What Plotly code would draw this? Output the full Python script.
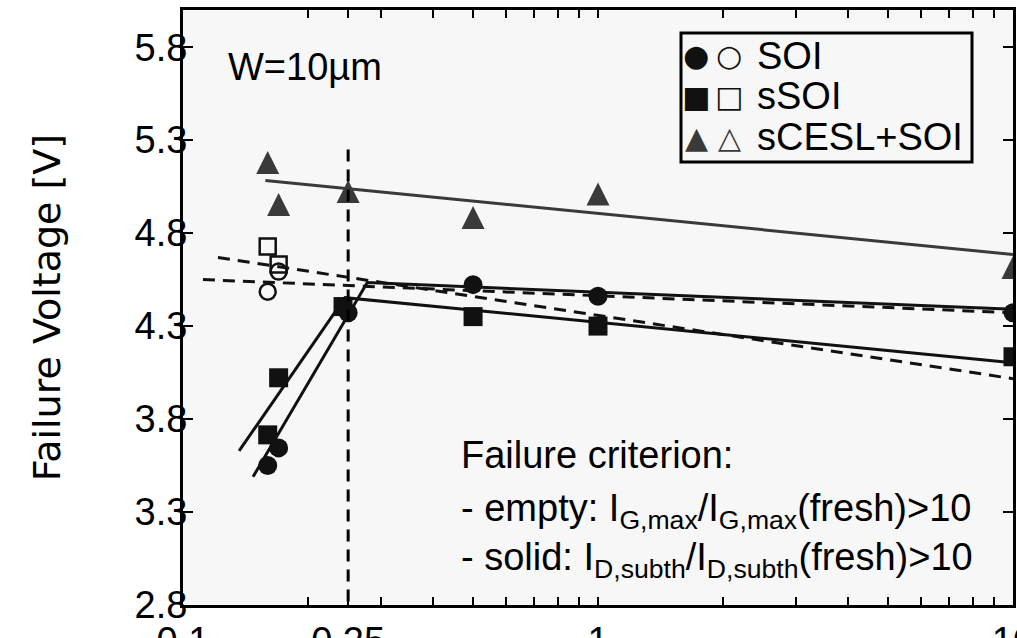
import plotly.graph_objects as go

# ---- measured failure voltages vs. gate length L [um] ----
soi_solid_L = [0.16, 0.17, 0.25, 0.5, 1, 10]
soi_solid_V = [3.55, 3.645, 4.372, 4.523, 4.46, 4.372]
soi_empty_L = [0.16, 0.17]
soi_empty_V = [4.485, 4.593]

ssoi_solid_L = [0.16, 0.17, 0.243, 0.5, 1, 10]
ssoi_solid_V = [3.715, 4.022, 4.405, 4.351, 4.30, 4.135]
ssoi_empty_L = [0.16, 0.17]
ssoi_empty_V = [4.728, 4.631]

scesl_solid_L = [0.16, 0.17, 0.25, 0.5, 1, 10]
scesl_solid_V = [5.18, 4.954, 5.024, 4.884, 5.01, 4.615]

# ---- guide / fit lines ----
soi_fit_L = [0.1475, 0.278, 10]
soi_fit_V = [3.49, 4.534, 4.39]
ssoi_fit_L = [0.1365, 0.2457, 10]
ssoi_fit_V = [3.629, 4.453, 4.103]
scesl_fit_L = [0.158, 10]
scesl_fit_V = [5.083, 4.685]
soi_empty_fit_L = [0.1117, 10]
soi_empty_fit_V = [4.55, 4.372]
ssoi_empty_fit_L = [0.1214, 10]
ssoi_empty_fit_V = [4.669, 4.017]

# vertical marker at L = 0.25 um
mark_L = [0.25, 0.25]
mark_V = [5.25, 2.8]

# ---- axes ----
x_tickvals = [0.1, 0.25, 1, 10]
x_ticktext = ["0.1", "0.25", "1", "10"]
x_minor = [0.2, 0.3, 0.4, 0.5, 0.6, 0.7, 0.8, 0.9, 2, 3, 4, 5, 6, 7, 8, 9]
y_tickvals = [2.8, 3.3, 3.8, 4.3, 4.8, 5.3, 5.8]
y_ticktext = ["2.8", "3.3", "3.8", "4.3", "4.8", "5.3", "5.8"]
y_range = [2.8, 6.0]

legend_names = ["SOI", "sSOI", "sCESL+SOI"]
legend_glyphs = [("\u25cf", "\u25cb"), ("\u25a0", "\u25a1"), ("\u25b2", "\u25b3")]

# ---- page geometry ----
W, H = 1017, 638
ML, MR, MT, MB = 183, 4, 10, 33
PW, PH = W - ML - MR, H - MT - MB

FONT = "Liberation Sans, Arial, Helvetica, sans-serif"
TITLE_FONT = "DejaVu Sans, Liberation Sans, Arial, sans-serif"
GLYPH_FONT = "DejaVu Sans, sans-serif"
FS = 38
BLACK = "#111111"
GREY = "#3a3a3a"
BG = "#f7f7f7"
DASH = "12px,8px"
TRI = 23   # triangle height/width in px


def px(x):
    return (x - ML) / PW


def py(y):
    return (H - MB - y) / PH


fig = go.Figure()


def line(xs, ys, color=BLACK, dash="solid", width=3):
    fig.add_trace(go.Scatter(x=xs, y=ys, mode="lines", showlegend=False,
                             line=dict(color=color, width=width, dash=dash),
                             hoverinfo="skip"))


line(scesl_fit_L, scesl_fit_V, color=GREY)
line(soi_fit_L, soi_fit_V)
line(ssoi_fit_L, ssoi_fit_V)
line(soi_empty_fit_L, soi_empty_fit_V, dash=DASH)
line(ssoi_empty_fit_L, ssoi_empty_fit_V, dash=DASH)


def pts(xs, ys, symbol, size, color, lw=0, **extra):
    fig.add_trace(go.Scatter(x=xs, y=ys, mode="markers", showlegend=False,
                             marker=dict(symbol=symbol, size=size, color=color,
                                         line=dict(color=color, width=lw), **extra)))


pts(ssoi_empty_L, ssoi_empty_V, "square-open", 16, BLACK, 2.5)
pts(soi_empty_L, soi_empty_V, "circle-open", 16, BLACK, 2.5)
pts(ssoi_solid_L, ssoi_solid_V, "square", 19, BLACK)
pts(soi_solid_L, soi_solid_V, "circle", 19, BLACK)
# tall triangle: arrow head turned upright and centred on the point via standoff
pts(scesl_solid_L, scesl_solid_V, "arrow-down", TRI, GREY, angle=180, standoff=TRI / 2)

# ---- legend (box, symbols and names) ----
leg_box = dict(x0=681, x1=972, y0=33, y1=162)
leg_rows = [56, 96, 137]
leg_x_fill, leg_x_open, leg_x_text = 696, 729, 755
leg_colors = [BLACK, BLACK, GREY]

annotations = []
for name, (g_fill, g_open), col, yr in zip(legend_names, legend_glyphs, leg_colors, leg_rows):
    for gx, g in ((leg_x_fill, g_fill), (leg_x_open, g_open)):
        annotations.append(dict(x=px(gx), y=py(yr), xref="paper", yref="paper", text=g,
                                showarrow=False, xanchor="center", yanchor="middle",
                                font=dict(family=GLYPH_FONT, size=30, color=col)))
    annotations.append(dict(x=px(leg_x_text), y=py(yr), xref="paper", yref="paper", text=name,
                            showarrow=False, xanchor="left", yanchor="middle",
                            font=dict(family=FONT, size=FS, color="black")))

annotations.append(dict(x=px(226), y=py(67), xref="paper", yref="paper", text="W=10\u00b5m",
                        showarrow=False, xanchor="left", yanchor="middle",
                        font=dict(family=FONT, size=FS, color="black")))

crit_lines = [
    "Failure criterion:",
    "- empty: I<sub>G,max</sub>/I<sub>G,max</sub>(fresh)&gt;10",
    "- solid: I<sub>D,subth</sub>/I<sub>D,subth</sub>(fresh)&gt;10",
]
crit_tops = [432, 485, 534]
for txt, yt in zip(crit_lines, crit_tops):
    annotations.append(dict(x=px(459), y=py(yt), xref="paper", yref="paper", text=txt,
                            showarrow=False, xanchor="left", yanchor="top",
                            font=dict(family=FONT, size=FS, color="black")))

shapes = [
    dict(type="rect", xref="paper", yref="paper",
         x0=px(leg_box["x0"]), x1=px(leg_box["x1"]),
         y0=py(leg_box["y1"]), y1=py(leg_box["y0"]),
         line=dict(color="black", width=3), fillcolor="rgba(0,0,0,0)", layer="above"),
    dict(type="line", xref="x", yref="y", x0=mark_L[0], x1=mark_L[1],
         y0=mark_V[0], y1=mark_V[1], line=dict(color="black", width=3, dash=DASH),
         layer="above"),
]

axis_common = dict(showgrid=False, zeroline=False, showline=True, automargin=False,
                   linecolor="black", linewidth=3,
                   mirror="ticks", ticks="inside", tickcolor="black", tickwidth=2,
                   tickfont=dict(family=FONT, size=FS, color="black"))

fig.update_layout(
    template="none",
    width=W, height=H,
    margin=dict(l=ML, r=MR, t=MT, b=MB, pad=0),
    paper_bgcolor="white", plot_bgcolor=BG,
    font=dict(family=FONT, size=FS, color="black"),
    showlegend=False,
    xaxis=dict(type="log", range=[-1, 1], tickmode="array",
               tickvals=x_tickvals, ticktext=x_ticktext, ticklen=8,
               ticklabelstandoff=0, ticklabeloverflow="allow",
               minor=dict(tickmode="array", tickvals=x_minor, ticks="inside",
                          ticklen=8, tickwidth=2, tickcolor="black", showgrid=False),
               **axis_common),
    yaxis=dict(range=y_range, tickmode="array", tickvals=y_tickvals, ticktext=y_ticktext,
               ticklen=10, ticklabelstandoff=-15,
               title=dict(text="Failure Voltage [V]", standoff=63,
                          font=dict(family=TITLE_FONT, size=FS, color="black")),
               **axis_common),
    annotations=annotations,
    shapes=shapes,
)

fig.write_html("out.html")
